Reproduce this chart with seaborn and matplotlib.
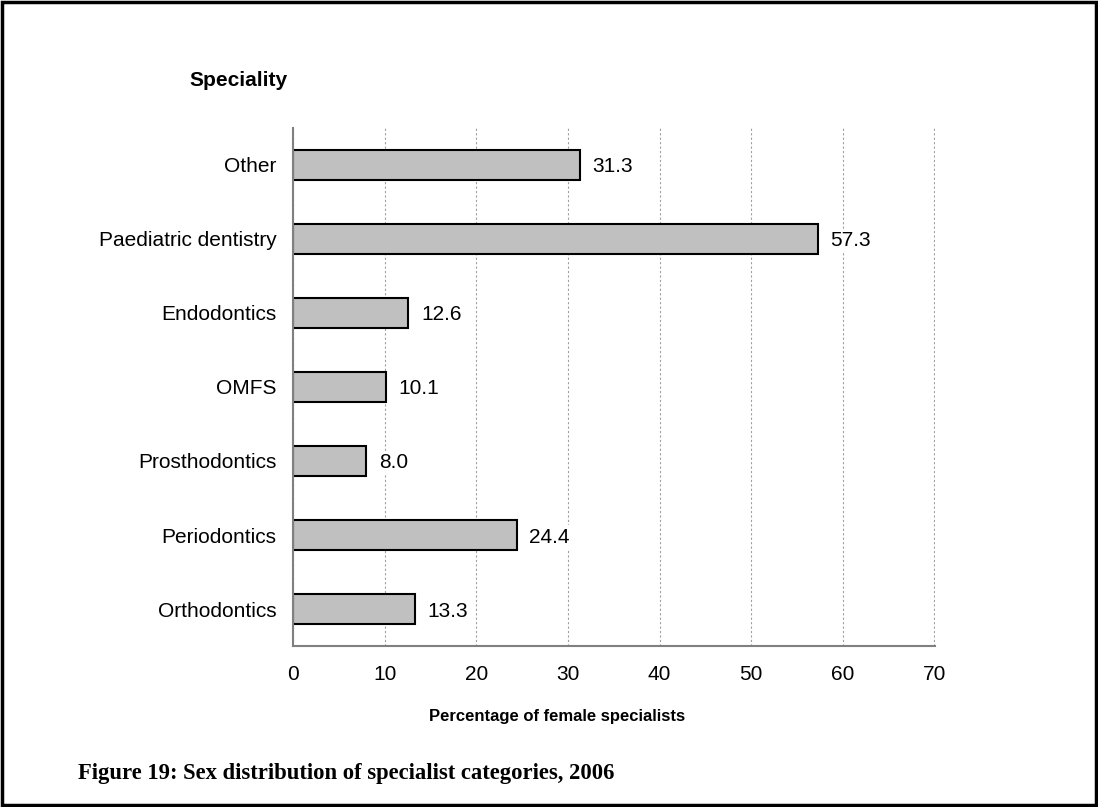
import matplotlib.pyplot as plt
import pandas as pd
import seaborn as sns
from matplotlib.patches import Rectangle

# Data (top to bottom)
specialities = ['Other', 'Paediatric dentistry', 'Endodontics', 'OMFS',
                'Prosthodontics', 'Periodontics', 'Orthodontics']
female_pct = [31.3, 57.3, 12.6, 10.1, 8.0, 24.4, 13.3]
x_ticks = [0, 10, 20, 30, 40, 50, 60, 70]

df = pd.DataFrame({'speciality': specialities, 'pct': female_pct})

sns.set_style('white')
plt.rcParams['font.family'] = ['Liberation Sans', 'DejaVu Sans']
plt.rcParams['text.color'] = 'black'
plt.rcParams['xtick.color'] = 'black'
plt.rcParams['ytick.color'] = 'black'
plt.rcParams['xtick.labelcolor'] = 'black'
plt.rcParams['ytick.labelcolor'] = 'black'

fig = plt.figure(figsize=(10.98, 8.07), dpi=100)
ax = fig.add_axes([0.2668, 0.1995, 0.5847, 0.6419])

sns.barplot(data=df, x='pct', y='speciality', orient='h', ax=ax,
            color='#c0c0c0', edgecolor='black', linewidth=1.5,
            width=0.41, saturation=1)

# Value labels with white box so the gridlines break behind them
labels = ax.bar_label(ax.containers[0], fmt='%.1f', padding=9, fontsize=15,
                      color='black',
                      bbox=dict(facecolor='white', edgecolor='none', pad=2))
for t in labels:
    t.set_va('center_baseline')

ax.set_xlim(0, 70.05)
ax.set_ylim(6.5, -0.5)
ax.set_xticks(x_ticks)
ax.tick_params(axis='both', length=0, labelsize=15)
ax.tick_params(axis='y', pad=12)
ax.tick_params(axis='x', pad=14)

ax.grid(axis='x', linestyle=(0, (2, 2)), color='#a0a0a0', linewidth=0.8)
ax.grid(axis='y', visible=False)
ax.set_axisbelow(True)

for side in ['top', 'right']:
    ax.spines[side].set_visible(False)
for side in ['left', 'bottom']:
    ax.spines[side].set_color('#808080')
    ax.spines[side].set_linewidth(1.5)

ax.set_xlabel('')
ax.set_ylabel('')

# Titles placed like the original Excel chart
fig.text(238 / 1098, 1 - 81 / 807, 'Speciality', fontsize=15,
         fontweight='bold', ha='center', va='center')
fig.text(557 / 1098, 1 - 717 / 807, 'Percentage of female specialists',
         fontsize=12, fontweight='bold', ha='center', va='center')
fig.text(78 / 1098, 1 - 773 / 807,
         'Figure 19: Sex distribution of specialist categories, 2006',
         fontsize=16.3, fontweight='bold', ha='left', va='center',
         family=['Liberation Serif', 'DejaVu Serif'])

# Black frame around the whole figure
fig.patches.append(Rectangle((0.002, 0.002), 0.996, 0.996, transform=fig.transFigure,
                             fill=False, edgecolor='black', linewidth=2.5))

fig.savefig('out.png', dpi=100)
